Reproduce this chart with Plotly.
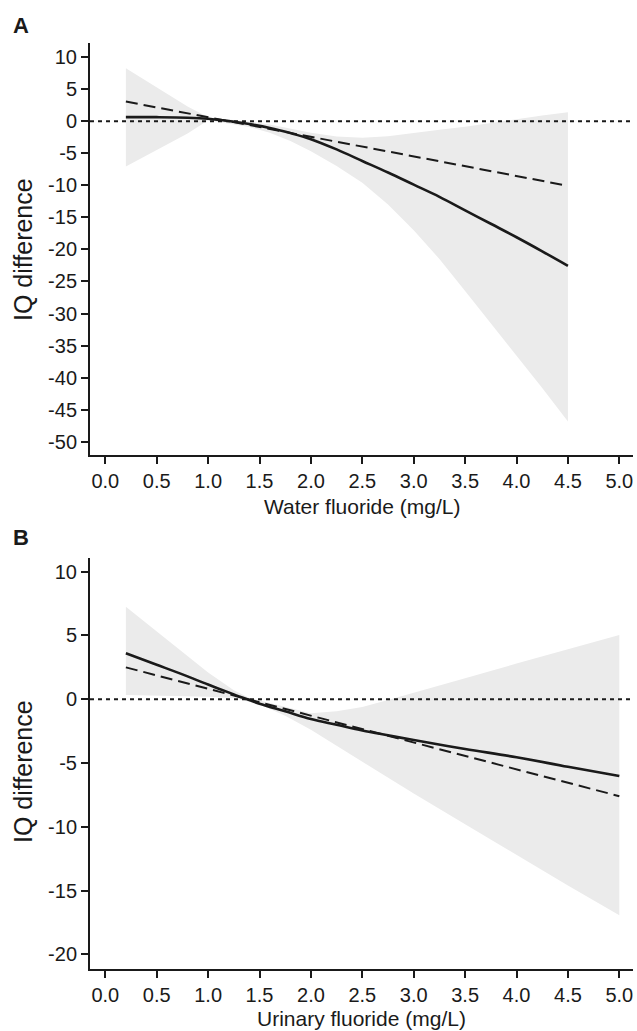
import plotly.graph_objects as go

W, H = 637, 1031

# ---- Panel A: water fluoride ----
xa = [0.2, 0.5, 0.8, 1.0, 1.2, 1.4, 1.6, 1.8, 2.0, 2.25, 2.5, 2.75, 3.0, 3.25, 3.5, 3.75, 4.0, 4.25, 4.5]
a_solid = [0.64, 0.63, 0.55, 0.38, 0.02, -0.45, -1.05, -1.85, -2.8, -4.4, -6.2, -8.0, -9.9, -11.8, -13.9, -16.0, -18.1, -20.3, -22.56]
a_upper = [8.28, 5.28, 2.3, 0.6, 0.3, -0.1, -0.5, -1.2, -1.8, -2.4, -2.6, -2.35, -1.9, -1.35, -0.85, -0.25, 0.35, 0.9, 1.4]
a_lower = [-7.07, -4.5, -1.9, 0.15, -0.4, -0.9, -1.8, -3.1, -4.7, -7.0, -9.6, -13.0, -17.0, -21.5, -26.5, -31.5, -36.5, -41.6, -46.85]
xa_lin = [0.2, 4.5]
a_linear = [3.07, -10.08]

# ---- Panel B: urinary fluoride ----
xb = [0.2, 0.5, 0.75, 1.0, 1.25, 1.4, 1.5, 1.75, 2.0, 2.25, 2.5, 2.75, 3.0, 3.5, 4.0, 4.5, 5.0]
b_solid = [3.6, 2.7, 1.95, 1.15, 0.38, -0.06, -0.35, -0.95, -1.55, -2.0, -2.45, -2.83, -3.2, -3.9, -4.55, -5.3, -6.02]
b_upper = [7.25, 5.3, 3.7, 2.1, 0.7, 0.1, -0.1, -0.6, -1.1, -0.95, -0.6, -0.05, 0.5, 1.65, 2.8, 3.9, 5.04]
b_lower = [0.33, 0.3, 0.25, 0.2, 0.1, -0.2, -0.4, -1.3, -2.4, -3.65, -4.9, -6.15, -7.4, -9.8, -12.2, -14.6, -16.93]
xb_lin = [0.2, 5.0]
b_linear = [2.5, -7.6]

x_ticks = [0, 0.5, 1, 1.5, 2, 2.5, 3, 3.5, 4, 4.5, 5]
x_ticktext = ["0.0", "0.5", "1.0", "1.5", "2.0", "2.5", "3.0", "3.5", "4.0", "4.5", "5.0"]
ya_ticks = [10, 5, 0, -5, -10, -15, -20, -25, -30, -35, -40, -45, -50]
yb_ticks = [10, 5, 0, -5, -10, -15, -20]

FONT = "Liberation Sans, Arial, Helvetica, sans-serif"
BAND = "#ebebeb"
INK = "#1a1a1a"

fig = go.Figure()

def add_panel(x, upper, lower, solid, xl, lin, xr, yr):
    fig.add_trace(go.Scatter(x=x, y=upper, mode="lines", line=dict(width=0, color=BAND),
                             xaxis=xr, yaxis=yr, showlegend=False, hoverinfo="skip"))
    fig.add_trace(go.Scatter(x=x, y=lower, mode="lines", line=dict(width=0, color=BAND),
                             fill="tonexty", fillcolor=BAND,
                             xaxis=xr, yaxis=yr, showlegend=False, hoverinfo="skip"))
    fig.add_trace(go.Scatter(x=xl, y=lin, mode="lines",
                             line=dict(width=2, color=INK, dash="12px,6px"),
                             xaxis=xr, yaxis=yr, showlegend=False))
    fig.add_trace(go.Scatter(x=x, y=solid, mode="lines", line=dict(width=2.6, color=INK, shape="spline"),
                             xaxis=xr, yaxis=yr, showlegend=False))

add_panel(xa, a_upper, a_lower, a_solid, xa_lin, a_linear, "x", "y")
add_panel(xb, b_upper, b_lower, b_solid, xb_lin, b_linear, "x2", "y2")

xdom = [90 / W, 633 / W]
ya_dom = [1 - 455 / H, 1 - 43 / H]
yb_dom = [1 - 969 / H, 1 - 558.3 / H]

axis_common = dict(showline=True, linewidth=2, linecolor=INK, ticks="outside", ticklen=7,
                   tickwidth=1.6, tickcolor=INK, showgrid=False, zeroline=False,
                   tickfont=dict(family=FONT, size=20, color=INK), automargin=False)

fig.update_layout(
    width=W, height=H, margin=dict(l=0, r=0, t=0, b=0),
    paper_bgcolor="white", plot_bgcolor="white",
    xaxis=dict(domain=xdom, anchor="y", range=[-0.149, 5.133], tickvals=x_ticks, ticktext=x_ticktext, **axis_common),
    yaxis=dict(domain=ya_dom, anchor="x", range=[-52.07, 12.2], tickvals=ya_ticks,
               ticktext=[str(v) for v in ya_ticks], **axis_common),
    xaxis2=dict(domain=xdom, anchor="y2", range=[-0.149, 5.133], tickvals=x_ticks, ticktext=x_ticktext, **axis_common),
    yaxis2=dict(domain=yb_dom, anchor="x2", range=[-21.15, 11.05], tickvals=yb_ticks,
                ticktext=[str(v) for v in yb_ticks], **axis_common),
)

for xr, yr in (("x", "y"), ("x2", "y2")):
    fig.add_shape(type="line", xref=f"{xr} domain", x0=0, x1=1, yref=yr, y0=0, y1=0,
                  line=dict(color=INK, width=2, dash="4px,4px"), layer="above")

def ann(text, px, py, size, bold=False, angle=0, xanchor="center"):
    fig.add_annotation(text=f"<b>{text}</b>" if bold else text, x=px / W, y=1 - py / H,
                       xref="paper", yref="paper", showarrow=False, textangle=angle,
                       xanchor=xanchor, yanchor="middle",
                       font=dict(family=FONT, size=size, color=INK))

ann("A", 11, 25, 22, bold=True, xanchor="left")
ann("B", 11, 537, 22, bold=True, xanchor="left")
ann("IQ difference", 23, 250, 25, angle=-90)
ann("IQ difference", 23, 772, 25, angle=-90)
ann("Water fluoride (mg/L)", 362, 506, 21)
ann("Urinary fluoride (mg/L)", 362, 1018, 21)

fig.write_html("out.html")
